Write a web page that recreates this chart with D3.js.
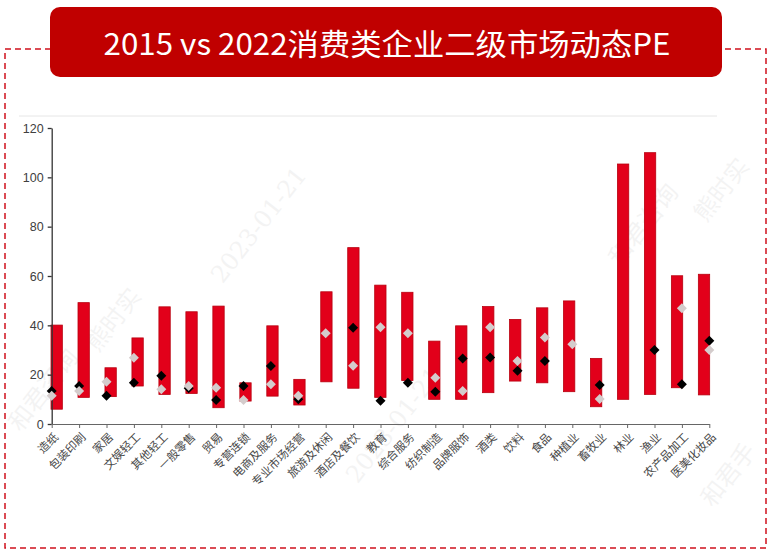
<!DOCTYPE html>
<html lang="zh">
<head>
<meta charset="UTF-8">
<title>2015 vs 2022消费类企业二级市场动态PE</title>
<script src="https://cdn.jsdelivr.net/npm/d3@7"></script>
<style>
  html, body { margin: 0; padding: 0; background: #fff; }
  svg { display: block; }
</style>
</head>
<body>
<script>
const categories = ["造纸","包装印刷","家居","文娱轻工","其他轻工","一般零售","贸易","专营连锁","电商及服务","专业市场经营","旅游及休闲","酒店及餐饮","教育","综合服务","纺织制造","品牌服饰","酒类","饮料","食品","种植业","畜牧业","林业","渔业","农产品加工","医美化妆品"];
// range bars (low / high PE)
const rangeLow  = [6.0, 10.8, 11.1, 15.4, 12.0, 12.4, 6.6, 9.3, 11.3, 7.7, 17.1, 14.5, 10.8, 17.6, 10.0, 10.0, 12.7, 17.4, 16.7, 13.1, 7.0, 10.0, 12.0, 14.7, 11.8];
const rangeHigh = [40.1, 49.2, 22.8, 34.9, 47.5, 45.5, 47.8, 16.7, 39.8, 18.1, 53.6, 71.5, 56.3, 53.4, 33.6, 39.8, 47.6, 42.4, 47.1, 49.9, 26.6, 105.4, 110.0, 60.1, 60.7];
// black and grey diamonds
const peBlack = [13.4, 15.4, 11.5, 16.7, 19.6, 14.5, 9.7, 15.4, 23.5, 10.0, null, 39.0, 9.4, 16.7, 13.1, 26.6, 27.0, 21.6, 25.5, null, 15.8, null, 30.0, 16.1, 33.8];
const peGrey  = [11.5, 13.4, 17.1, 26.9, 14.1, 15.4, 14.7, 9.7, 16.1, 11.5, 36.8, 23.6, 39.2, 36.8, 18.8, 13.4, 39.2, 25.5, 35.1, 32.3, 10.1, null, null, 46.9, 30.0];
const yTicks = [0, 20, 40, 60, 80, 100, 120];

const W = 773, H = 556;
const svg = d3.select("body").append("svg").attr("width", W).attr("height", H);

// dashed frame
svg.append("rect")
    .attr("x", 5).attr("y", 49).attr("width", 761).attr("height", 499)
    .attr("fill", "none").attr("stroke", "#d0101c").attr("stroke-width", 1.5)
    .attr("stroke-dasharray", "6,4");

// pasted chart image edge
svg.append("line")
    .attr("x1", 19).attr("x2", 717).attr("y1", 116).attr("y2", 116)
    .attr("stroke", "#e6e6e6").attr("stroke-width", 1);

// title box
svg.append("rect")
    .attr("x", 50).attr("y", 7).attr("width", 672).attr("height", 70).attr("rx", 10)
    .attr("fill", "#c00000");
svg.append("text")
    .attr("x", 387).attr("y", 55)
    .attr("text-anchor", "middle")
    .attr("fill", "#fff")
    .attr("font-family", "'Noto Sans CJK SC', sans-serif")
    .attr("font-size", 30)
    .attr("textLength", 567).attr("lengthAdjust", "spacingAndGlyphs")
    .text("2015 vs 2022消费类企业二级市场动态PE");

// watermarks
const marks = [
    {t: "和君咨询", x: 50, y: 395},
    {t: "熊时实", x: 120, y: 325},
    {t: "2023-01-21", x: 265, y: 230},
    {t: "2023-01-21", x: 400, y: 430},
    {t: "和君咨询", x: 650, y: 230},
    {t: "熊时实", x: 728, y: 195},
    {t: "和君手", x: 735, y: 480}
];
svg.append("g").selectAll("text").data(marks).enter().append("text")
    .attr("transform", d => `translate(${d.x},${d.y}) rotate(-52)`)
    .attr("text-anchor", "middle")
    .attr("font-family", "'DejaVu Serif', 'Noto Sans CJK SC', serif")
    .attr("font-size", 24)
    .attr("fill", "#000").attr("opacity", 0.045)
    .text(d => d.t);

const y = d3.scaleLinear().domain([0, 120]).range([424, 128]);
const xPoint = d3.scalePoint().domain(categories).range([51.7, 709.3]);
const xBar = d3.scaleBand().domain(categories).range([43.2, 717.5])
    .paddingInner(0.58).paddingOuter(0.29);

// bars
svg.append("g").selectAll("rect")
    .data(categories).enter().append("rect")
    .attr("x", d => xBar(d))
    .attr("width", xBar.bandwidth())
    .attr("y", (d, i) => y(rangeHigh[i]))
    .attr("height", (d, i) => y(rangeLow[i]) - y(rangeHigh[i]))
    .attr("fill", "#e2001a")
    .attr("stroke", "#b8000f").attr("stroke-width", 0.8);

// axes
const yAxis = svg.append("g")
    .attr("transform", "translate(51.7,0)")
    .call(d3.axisLeft(y).tickValues(yTicks).tickSize(4).tickSizeOuter(0));
yAxis.select(".domain").attr("stroke", "#333").attr("stroke-width", 1.3);
yAxis.selectAll(".tick line").attr("stroke", "#333").attr("stroke-width", 1.3);
yAxis.selectAll(".tick text")
    .attr("x", -8)
    .attr("fill", "#404040")
    .attr("font-family", "'Liberation Sans', Arial, sans-serif")
    .attr("font-size", 12.5);

const xAxis = svg.append("g")
    .attr("transform", "translate(0,424)")
    .call(d3.axisBottom(xPoint).tickSize(4).tickSizeOuter(0));
xAxis.select(".domain").attr("stroke", "#666").attr("stroke-width", 1.2);
xAxis.selectAll(".tick line").attr("stroke", "#666");
xAxis.selectAll(".tick text")
    .attr("fill", "#484848")
    .attr("font-family", "'Noto Sans CJK SC', sans-serif")
    .attr("font-size", 11.5)
    .attr("text-anchor", "end")
    .attr("x", 0).attr("y", 0)
    .attr("dy", "0.35em")
    .attr("transform", "translate(4,11) rotate(-45)");

// diamonds
const diamond = d3.symbol().type(d3.symbolSquare).size(50);
function drawMarkers(vals, color) {
    svg.append("g").selectAll("path")
        .data(categories.map((c, i) => ({c, v: vals[i]})).filter(d => d.v !== null))
        .enter().append("path")
        .attr("d", diamond)
        .attr("transform", d => `translate(${xPoint(d.c)},${y(d.v)}) rotate(45)`)
        .attr("fill", color);
}
drawMarkers(peBlack, "#000");
drawMarkers(peGrey, "#d4cccc");
</script>
</body>
</html>
